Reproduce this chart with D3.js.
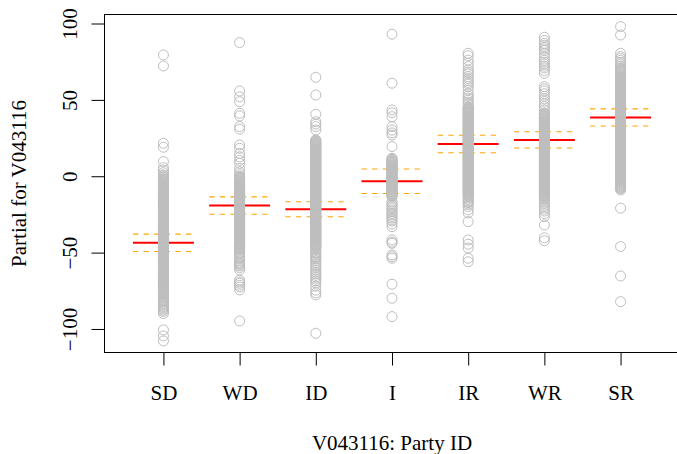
<!DOCTYPE html>
<html>
<head>
<meta charset="utf-8">
<script src="https://cdn.jsdelivr.net/npm/d3@7"></script>
<style>
  html, body { margin: 0; padding: 0; background: #fff; }
  svg { display: block; }
  text { font-family: "Liberation Serif", "Times New Roman", serif; font-size: 21px; fill: #000; }
</style>
</head>
<body>
<div id="chart"></div>
<script>
// Party ID levels
const categories = ["SD", "WD", "ID", "I", "IR", "WR", "SR"];

// Fitted term for each level and its standard error
const termValues = [-43.6, -19.2, -21.6, -3.3, 21.1, 23.8, 38.5];
const termSE = [5.7, 5.7, 4.9, 8.0, 5.7, 5.3, 5.6];

// Partial residuals per level
const resSD = [79.4, 72.2, 21.6, 19.0, 9.6, 5.6, 4.1, 2.3, 0.9, -0.3, -1.7, -2.6, -3.4, -4.4, -5.3, -6.2, -7.1, -8.0, -8.9, -9.6, -10.2, -11.1, -12.0, -12.8, -13.6, -14.5, -15.3, -16.0, -16.8, -17.7, -18.7, -19.4, -20.1, -21.0, -21.9, -22.6, -23.4, -24.2, -25.0, -25.9, -26.8, -27.4, -28.1, -29.1, -30.0, -30.8, -31.6, -32.4, -33.2, -34.0, -34.9, -35.6, -36.3, -37.3, -38.2, -38.9, -39.7, -40.6, -41.5, -42.2, -43.0, -43.8, -44.6, -45.5, -46.4, -47.1, -47.8, -48.7, -49.5, -50.4, -51.3, -52.0, -52.7, -53.6, -54.4, -55.2, -56.1, -56.8, -57.6, -58.5, -59.4, -60.1, -60.8, -61.8, -62.7, -63.4, -64.2, -65.1, -65.9, -66.7, -67.5, -68.3, -69.1, -70.0, -70.8, -71.6, -72.4, -73.2, -74.0, -74.9, -75.7, -76.5, -77.3, -78.9, -80.6, -82.1, -83.8, -85.4, -86.9, -88.5, -89.9, -100.6, -104.5, -107.8,
  0.4, -1.0, -2.1, -3.0, -3.9, -4.8, -5.7, -6.6, -7.5, -8.4, -9.2, -9.9, -10.6, -11.5, -12.4, -13.2, -14.0, -14.9, -15.7, -16.4, -17.2, -18.2, -19.0, -19.8, -20.5, -21.4, -22.2, -23.0, -23.8, -24.6, -25.4, -26.3, -27.1, -27.8, -28.6, -29.5, -30.4, -31.2, -32.0, -32.8, -33.6, -34.4, -35.2, -35.9, -36.8, -37.7, -38.5, -39.3, -40.1, -41.0, -41.8, -42.6, -43.4, -44.2, -45.0, -45.9, -46.7, -47.4, -48.2, -49.1, -49.9, -50.8, -51.6, -52.3, -53.1, -54.0, -54.8, -55.6, -56.4, -57.2, -58.0, -58.9, -59.7, -60.4, -61.3, -62.2, -63.0, -63.8, -64.6, -65.5, -66.3, -67.1, -67.9, -68.7, -69.5, -70.4, -71.2, -72.0, -72.8, -73.6, -74.4, -75.3, -76.1, -76.9, -77.8, -79.6, -81.4, -83.0, -84.6, -86.2, -87.7];
const resWD = [87.5, 55.8, 52.0, 48.8, 41.2, 39.5, 32.5, 30.8, 20.5, 18.3, 15.0, 12.7, 10.4, 8.5, 5.2, 3.0, 1.5, 0.2, -0.6, -1.5, -2.3, -3.2, -4.0, -4.9, -5.7, -6.4, -7.3, -8.2, -9.1, -9.9, -10.6, -11.3, -12.2, -13.1, -14.0, -14.8, -15.5, -16.2, -17.1, -18.0, -18.9, -19.7, -20.4, -21.1, -22.0, -22.9, -23.8, -24.6, -25.3, -26.0, -26.9, -27.8, -28.6, -29.4, -30.1, -30.9, -31.8, -32.6, -33.5, -34.3, -35.0, -35.8, -36.7, -37.5, -38.3, -39.1, -39.8, -40.6, -41.5, -42.4, -43.2, -44.0, -44.7, -45.5, -46.4, -47.2, -48.3, -49.6, -51.0, -52.6, -53.9, -55.1, -56.2, -57.4, -58.7, -59.8, -61.3, -68.0, -69.2, -70.1, -71.4, -72.6, -74.4, -94.7,
  -0.2, -1.1, -1.9, -2.7, -3.6, -4.4, -5.3, -6.0, -6.9, -7.7, -8.6, -9.5, -10.2, -11.0, -11.7, -12.6, -13.5, -14.4, -15.2, -15.8, -16.6, -17.5, -18.4, -19.3, -20.0, -20.8, -21.5, -22.4, -23.3, -24.2, -24.9, -25.7, -26.4, -27.3, -28.2, -29.0, -29.8, -30.5, -31.3, -32.2, -33.0, -33.9, -34.7, -35.4, -36.2, -37.1, -37.9, -38.7, -39.4, -40.2, -41.0, -41.9, -42.8, -43.6, -44.3, -45.1, -45.9, -46.8, -47.7, -50.3, -53.2, -56.8, -58.1];
const resID = [64.8, 53.2, 40.6, 35.7, 34.2, 32.5, 30.3, 23.8, 22.9, 22.0, 21.1, 20.3, 19.4, 18.5, 17.7, 16.9, 16.0, 15.1, 14.2, 13.4, 12.6, 11.8, 10.9, 10.0, 9.1, 8.3, 7.5, 6.6, 5.7, 4.9, 4.0, 3.1, 2.2, 1.4, 0.5, -0.3, -1.2, -2.0, -2.9, -3.8, -4.6, -5.5, -6.3, -7.1, -8.0, -8.9, -9.8, -10.6, -11.4, -12.3, -13.2, -14.0, -14.9, -15.8, -16.6, -17.4, -18.3, -19.2, -20.1, -20.9, -21.7, -22.6, -23.5, -24.3, -25.2, -26.0, -26.8, -27.7, -28.6, -29.5, -30.3, -31.1, -32.0, -32.9, -33.8, -34.6, -35.4, -36.3, -37.2, -38.0, -38.8, -39.7, -40.6, -41.4, -42.3, -43.2, -44.0, -44.8, -45.7, -46.6, -48.3, -49.6, -50.5, -51.8, -52.9, -54.1, -55.2, -56.5, -57.8, -59.0, -60.1, -61.4, -62.7, -63.8, -64.9, -66.2, -67.4, -68.6, -69.8, -72.0, -74.6, -76.3, -77.7, -102.8,
  23.3, 22.4, 21.5, 20.7, 19.8, 18.9, 18.1, 17.3, 16.4, 15.5, 14.6, 13.8, 13.0, 12.2, 11.3, 10.4, 9.5, 8.7, 7.9, 7.0, 6.1, 5.3, 4.4, 3.5, 2.6, 1.8, 0.9, 0.1, -0.7, -1.6, -2.4, -3.3, -4.2, -5.0, -5.9, -6.7, -7.5, -8.4, -9.3, -10.2, -11.0, -11.8, -12.7, -13.6, -14.4, -15.3, -16.2, -17.0, -17.8, -18.7, -19.6, -20.5, -21.3, -22.1, -23.0, -23.9, -24.7, -25.6, -26.4, -27.2, -28.1, -29.0, -29.9, -30.7, -31.5, -32.4, -33.3, -34.2, -35.0, -35.8, -36.7, -37.6, -38.4, -39.2, -40.1, -41.0, -41.8, -42.7, -43.6, -44.4, -45.2, -46.1, -47.4, -50.0, -53.5];
const resI = [93.0, 60.9, 43.4, 41.6, 39.0, 32.5, 30.2, 28.4, 27.0, 19.4, 11.8, 10.9, 9.9, 9.0, 8.1, 7.2, 6.3, 5.4, 4.6, 3.7, 2.8, 1.9, 1.0, 0.1, -0.7, -1.6, -2.5, -3.4, -4.3, -5.1, -6.0, -6.9, -7.8, -8.7, -9.6, -10.5, -11.4, -12.4, -13.4, -16.6, -17.8, -18.9, -19.9, -20.8, -22.0, -23.1, -24.2, -25.2, -26.4, -27.5, -28.6, -29.4, -31.2, -33.0, -41.7, -43.1, -43.9, -51.5, -52.6, -53.7, -70.7, -79.9, -91.9,
  11.3, 10.4, 9.4, 8.5, 7.6, 6.7, 5.8, 5.0, 4.1, 3.2, 2.3, 1.4, 0.5, -0.3, -1.2, -2.0, -2.9, -3.8, -4.7, -5.5, -6.4, -7.3, -8.2, -9.1, -10.0, -11.0, -11.9, -12.9];
const resIR = [80.5, 78.9, 76.0, 74.0, 71.8, 69.6, 68.3, 67.0, 65.2, 63.9, 62.6, 61.4, 60.3, 58.7, 56.4, 54.0, 52.6, 51.2, 49.8, 48.5, 47.2, 45.6, 44.7, 43.8, 42.9, 42.0, 41.1, 40.2, 39.3, 38.4, 37.6, 36.7, 35.8, 34.9, 34.0, 33.1, 32.2, 31.3, 30.4, 29.6, 28.7, 27.8, 26.9, 26.0, 25.2, 24.3, 23.4, 22.5, 21.6, 20.7, 19.8, 18.9, 18.1, 17.2, 16.3, 15.4, 14.5, 13.6, 12.7, 11.8, 11.0, 10.1, 9.2, 8.3, 7.4, 6.5, 5.6, 4.7, 3.9, 3.0, 2.1, 1.2, 0.3, -0.6, -1.5, -2.4, -3.3, -4.1, -5.0, -5.9, -6.8, -7.7, -8.6, -9.5, -10.3, -11.2, -12.3, -13.4, -15.1, -16.2, -17.3, -18.5, -19.8, -22.0, -24.0, -29.7, -41.7, -44.5, -47.0, -53.7, -56.0,
  45.1, 44.2, 43.3, 42.4, 41.5, 40.6, 39.7, 38.8, 38.0, 37.1, 36.2, 35.3, 34.4, 33.5, 32.6, 31.7, 30.8, 30.0, 29.1, 28.2, 27.3, 26.4, 25.6, 24.7, 23.8, 22.9, 22.0, 21.1, 20.2, 19.3, 18.5, 17.6, 16.7, 15.8, 14.9, 14.0, 13.1, 12.2, 11.4, 10.5, 9.6, 8.7, 7.8, 6.9, 6.0, 5.1, 4.3, 3.4, 2.5, 1.6, 0.7, -0.1, -1.0, -1.9, -2.8, -3.7, -4.6, -5.4, -6.3, -7.2, -8.1, -9.0, -9.9, -10.8, -11.7, -12.8, -14.2, -16.8];
const resWR = [91.0, 88.9, 87.0, 85.8, 84.6, 83.4, 82.3, 80.5, 78.1, 76.0, 74.7, 73.4, 72.1, 70.9, 69.1, 67.4, 58.7, 57.3, 55.9, 54.1, 52.4, 50.7, 49.0, 47.3, 45.6, 43.5, 41.4, 40.5, 39.6, 38.7, 37.8, 36.9, 36.0, 35.1, 34.2, 33.3, 32.4, 31.6, 30.7, 29.8, 28.9, 28.0, 27.1, 26.2, 25.3, 24.4, 23.5, 22.6, 21.7, 20.8, 19.9, 19.0, 18.1, 17.3, 16.4, 15.5, 14.6, 13.7, 12.8, 11.9, 11.0, 10.1, 9.2, 8.3, 7.4, 6.6, 5.7, 4.8, 3.9, 3.0, 2.1, 1.2, 0.3, -0.6, -1.5, -2.4, -3.3, -4.2, -5.1, -5.9, -6.8, -7.7, -8.6, -9.5, -10.4, -11.3, -12.2, -13.1, -14.0, -15.5, -16.6, -17.6, -19.0, -20.3, -21.6, -22.8, -24.5, -26.4, -31.9, -40.3, -42.2,
  41.0, 40.1, 39.2, 38.3, 37.4, 36.5, 35.6, 34.7, 33.8, 32.9, 32.0, 31.2, 30.3, 29.4, 28.5, 27.6, 26.7, 25.8, 24.9, 24.0, 23.1, 22.2, 21.3, 20.4, 19.5, 18.6, 17.7, 16.9, 16.0, 15.1, 14.2, 13.3, 12.4, 11.5, 10.6, 9.7, 8.8, 7.9, 7.0, 6.2, 5.3, 4.4, 3.5, 2.6, 1.7, 0.8, -0.1, -1.0, -1.9, -2.8, -3.7, -4.6, -5.5, -6.4, -7.3, -8.2, -9.1, -10.0, -10.9, -11.8, -12.7, -13.6, -14.8];
const resSR = [98.0, 92.5, 80.5, 78.3, 77.1, 75.9, 74.6, 73.5, 72.2, 71.0, 69.9, 68.8, 67.6, 66.4, 65.3, 64.4, 63.6, 62.7, 61.9, 61.0, 60.1, 59.3, 58.4, 57.4, 56.5, 55.7, 54.8, 53.8, 52.9, 52.1, 51.2, 50.3, 49.4, 48.4, 47.5, 46.7, 45.8, 44.9, 43.9, 43.1, 42.2, 41.2, 40.3, 39.5, 38.6, 37.6, 36.7, 35.9, 35.0, 34.0, 33.1, 32.3, 31.4, 30.5, 29.5, 28.6, 27.8, 26.9, 26.0, 25.0, 24.1, 23.3, 22.4, 21.5, 20.5, 19.6, 18.8, 17.9, 17.0, 16.0, 15.1, 14.3, 13.4, 12.5, 11.5, 10.6, 9.8, 8.9, 8.0, 7.0, 6.1, 5.3, 4.4, 3.5, 2.5, 1.6, 0.8, -0.1, -1.0, -2.0, -2.9, -3.7, -4.6, -5.5, -6.5, -7.4, -8.2, -9.0, -20.9, -46.0, -65.3, -82.1,
  70.4, 69.4, 68.2, 67.0, 65.9, 64.9, 64.0, 63.2, 62.3, 61.4, 60.6, 59.7, 58.8, 57.9, 57.0, 56.1, 55.2, 54.3, 53.4, 52.5, 51.6, 50.7, 49.8, 48.9, 48.0, 47.1, 46.2, 45.3, 44.4, 43.5, 42.6, 41.7, 40.8, 39.9, 39.0, 38.1, 37.2, 36.3, 35.4, 34.5, 33.6, 32.7, 31.8, 30.9, 30.0, 29.1, 28.2, 27.3, 26.4, 25.5, 24.6, 23.7, 22.8, 21.9, 21.0, 20.1, 19.2, 18.3, 17.4, 16.5, 15.6, 14.7, 13.8, 12.9, 12.0, 11.1, 10.2, 9.3, 8.4, 7.5, 6.6, 5.7, 4.8, 3.9, 3.0, 2.1, 1.2, 0.3, -0.6, -1.5, -2.4, -3.3, -4.2, -5.1, -6.0, -6.9, -7.8];

const yTicks = [-100, -50, 0, 50, 100];
const xTitle = "V043116: Party ID";
const yTitle = "Partial for V043116";

const residuals = [resSD, resWD, resID, resI, resIR, resWR, resSR];

const width = 677, height = 454;
const svg = d3.select("#chart").append("svg")
  .attr("width", width).attr("height", height);

// Level i sits at x = i+1; axis runs 0.5 past the ends, plus 4% padding
const x = d3.scaleLinear().domain([0.22, 7.78]).range([104, 680]);
const y = d3.scaleLinear().domain([-115.4, 105.9]).range([352.5, 14.5]);

// Fitted term segments (red) and +/- SE bands (orange dashed)
const halfW = 0.4;
categories.forEach((c, i) => {
  const xi = i + 1;
  const lo = termValues[i] - termSE[i], hi = termValues[i] + termSE[i];
  [lo, hi].forEach(v => {
    svg.append("line")
      .attr("x1", x(xi - halfW)).attr("x2", x(xi + halfW))
      .attr("y1", y(v)).attr("y2", y(v))
      .attr("stroke", "#FFA500").attr("stroke-width", 1.1)
      .attr("stroke-dasharray", "5.3,5.3");
  });
  svg.append("line")
    .attr("x1", x(xi - halfW)).attr("x2", x(xi + halfW))
    .attr("y1", y(termValues[i])).attr("y2", y(termValues[i]))
    .attr("stroke", "#FF0000").attr("stroke-width", 2);
});

// Partial residual points
residuals.forEach((vals, i) => {
  svg.append("g").selectAll("circle").data(vals).join("circle")
    .attr("cx", x(i + 1)).attr("cy", d => y(d)).attr("r", 5)
    .attr("fill", "none").attr("stroke", "#BEBEBE").attr("stroke-width", 1);
});

// Plot frame
svg.append("rect")
  .attr("x", 104.5).attr("y", 14.5).attr("width", 580).attr("height", 338)
  .attr("fill", "none").attr("stroke", "#000").attr("stroke-width", 1);

// Y axis
const yAxis = d3.axisLeft(y).tickValues(yTicks).tickSize(13).tickPadding(0)
  .tickFormat(d => d < 0 ? "\u2212" + Math.abs(d) : String(d));
const gy = svg.append("g").attr("transform", "translate(104.5,0)").call(yAxis);
gy.select(".domain").remove();
gy.selectAll(".tick line").attr("stroke", "#000");
gy.selectAll(".tick text")
  .attr("x", 0).attr("dy", null).attr("y", 0)
  .attr("text-anchor", "middle")
  .attr("transform", "translate(-27.5,0) rotate(-90)")
  .style("font-family", "'Liberation Serif', serif").style("font-size", "21px");

// X axis
const xAxis = d3.axisBottom(x).tickValues(d3.range(1, categories.length + 1))
  .tickSize(13).tickPadding(0).tickFormat((d, i) => categories[i]);
const gx = svg.append("g").attr("transform", "translate(0,352.5)").call(xAxis);
gx.select(".domain").remove();
gx.selectAll(".tick line").attr("stroke", "#000");
gx.selectAll(".tick text")
  .attr("y", 47.5).attr("dy", null)
  .style("font-family", "'Liberation Serif', serif").style("font-size", "21px");

// Axis titles
svg.append("text")
  .attr("x", x(4)).attr("y", 450)
  .attr("text-anchor", "middle").text(xTitle);
svg.append("text")
  .attr("transform", `translate(26,${(14.5 + 352.5) / 2}) rotate(-90)`)
  .attr("text-anchor", "middle").text(yTitle);
</script>
</body>
</html>
